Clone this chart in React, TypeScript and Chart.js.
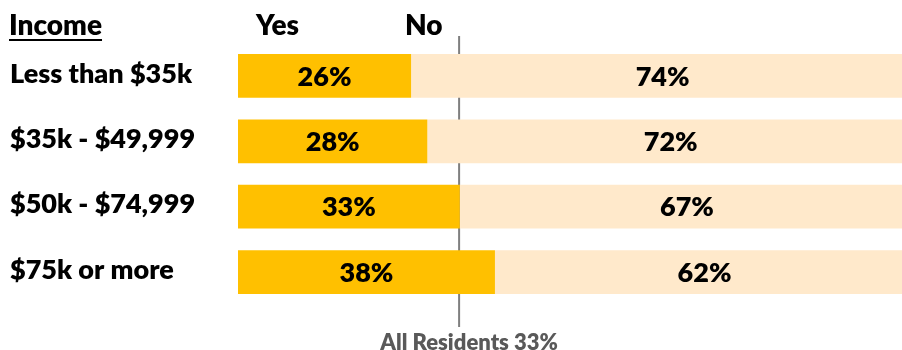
import React, { useEffect, useRef } from "react";
import { Chart, registerables } from "chart.js";

Chart.register(...registerables);

const categories = ["Less than $35k", "$35k - $49,999", "$50k - $74,999", "$75k or more"];
const yesValues = [25.6, 28.0, 32.8, 38.0];
const noValues = [74.4, 72.0, 67.2, 62.0];
const allResidents = 32.7;
const headerLabels = { group: "Income", yes: "Yes", no: "No" };
const referenceLabel = "All Residents 33%";

const FONT = "Lato";
const WEIGHT = "800";

export default function App() {
  const ref = useRef<HTMLCanvasElement | null>(null);

  useEffect(() => {
    const canvas = ref.current;
    if (!canvas) return;

    const overlay = {
      id: "overlay",
      beforeDatasetsDraw(chart: any) {
        const ctx = chart.ctx;
        const x = chart.scales.x.getPixelForValue(allResidents);
        ctx.save();
        ctx.strokeStyle = "#7f7f7f";
        ctx.lineWidth = 2;
        ctx.beginPath();
        ctx.moveTo(x, 36);
        ctx.lineTo(x, 327);
        ctx.stroke();
        ctx.restore();
      },
      afterDatasetsDraw(chart: any) {
        const ctx = chart.ctx;
        ctx.save();
        ctx.font = `${WEIGHT} 27px ${FONT}`;
        ctx.fillStyle = "#000";
        ctx.textAlign = "center";
        ctx.textBaseline = "middle";
        chart.data.datasets.forEach((ds: any, i: number) => {
          const meta = chart.getDatasetMeta(i);
          meta.data.forEach((el: any, j: number) => {
            const p = el.getProps(["x", "base", "y"], true);
            const cx = (p.x + p.base) / 2;
            ctx.fillText(Math.round(ds.data[j]) + "%", cx, p.y + 1);
          });
        });
        // headers
        ctx.font = `${WEIGHT} 28px ${FONT}`;
        ctx.textAlign = "left";
        ctx.textBaseline = "alphabetic";
        ctx.fillText(headerLabels.group, 9, 35);
        const w = ctx.measureText(headerLabels.group).width;
        ctx.fillRect(9, 39, w, 2);
        ctx.fillText(headerLabels.yes, 256, 35);
        ctx.fillText(headerLabels.no, 405, 35);
        // reference label
        const x = chart.scales.x.getPixelForValue(allResidents);
        ctx.font = `${WEIGHT} 22px ${FONT}`;
        ctx.fillStyle = "#595959";
        ctx.textAlign = "center";
        ctx.fillText(referenceLabel, x + 10, 350);
        ctx.restore();
      },
    };

    const chart = new Chart(canvas, {
      type: "bar",
      data: {
        labels: categories,
        datasets: [
          { label: "Yes", data: yesValues, backgroundColor: "#FFC000", barPercentage: 0.67, categoryPercentage: 1 },
          { label: "No", data: noValues, backgroundColor: "#FFE9CB", barPercentage: 0.67, categoryPercentage: 1 },
        ],
      },
      options: {
        indexAxis: "y",
        animation: false,
        responsive: false,
        maintainAspectRatio: false,
        layout: { padding: { left: 10, top: 43.3, bottom: 45.3, right: 0 } },
        plugins: { legend: { display: false }, tooltip: { enabled: false } },
        scales: {
          x: { stacked: true, display: false, min: 0, max: 98.2 },
          y: {
            stacked: true,
            grid: { display: false },
            border: { display: false },
            afterFit: (s: any) => {
              s.width = 228;
            },
            ticks: {
              crossAlign: "far",
              labelOffset: -2,
              color: "#000",
              font: { family: FONT, size: 27, weight: WEIGHT },
            },
          },
        },
      },
      plugins: [overlay],
    });
    return () => chart.destroy();
  }, []);

  return (
    <div style={{ position: "absolute", left: 0, top: 0, width: 902, height: 350, background: "#fff" }}>
      <canvas ref={ref} width={902} height={350} style={{ display: "block" }} />
    </div>
  );
}
